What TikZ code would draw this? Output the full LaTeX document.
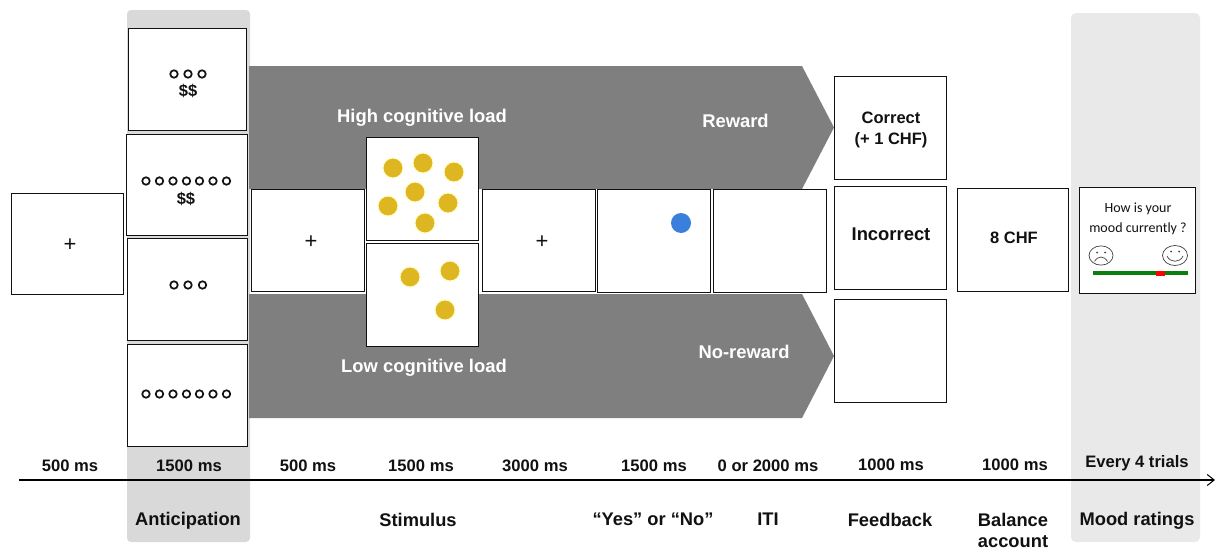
\documentclass[tikz,border=0pt]{standalone}
\usepackage{fontspec}
\setmainfont{Liberation Sans}
\newfontfamily\moodfont{Carlito}
\usetikzlibrary{arrows.meta}
\definecolor{bandgray}{HTML}{7F7F7F}
\definecolor{antgray}{HTML}{D9D9D9}
\definecolor{moodgray}{HTML}{E9E9E9}
\definecolor{dotyellow}{HTML}{DDB622}
\definecolor{dotblue}{HTML}{3A7FDB}
\definecolor{inkk}{HTML}{111111}
\definecolor{scalegreen}{HTML}{0B7F0B}
\newcommand{\screen}[6][]{\node[screenbox,#1,minimum width=#4-#2,minimum height=#5-#3,anchor=north west] (#6) at (#2-0.5,#3-0.5) {};}
\tikzset{
  x=1pt,y=-1pt,
  screenbox/.style={draw=inkk,line width=1.25pt,fill=white,inner sep=0pt,outer sep=0pt},
  lab/.style={font=\bfseries\fontsize{18.3}{21}\selectfont,text=inkk,align=center,inner sep=0pt},
  timelab/.style={font=\bfseries\fontsize{16.6}{19}\selectfont,text=inkk,inner sep=0pt},
  whitelab/.style={font=\bfseries\fontsize{18.4}{21}\selectfont,text=white,inner sep=0pt},
  boxlab/.style={font=\bfseries\fontsize{16.5}{19}\selectfont,text=inkk,align=center,inner sep=0pt},
  cross/.style={font=\fontsize{22}{22}\selectfont,text=inkk,inner sep=0pt},
  ring/.style={circle,draw=inkk,line width=1.7pt,minimum size=7.5pt,inner sep=0pt},
  ydot/.style={circle,fill=dotyellow,minimum size=20pt,inner sep=0pt,draw=yellow!25,line width=1pt},
  band/.style={fill=bandgray,draw=none},
  face/.style={draw=black!75,line width=.7pt},
}
\begin{document}
\begin{tikzpicture}
\useasboundingbox (0,0) rectangle (1215,549);
\fill[white] (0,0) rectangle (1215,549);
% backgrounds
\fill[antgray,rounded corners=4pt] (127,10) rectangle (250,542);
\fill[moodgray,rounded corners=5pt] (1071,13) rectangle (1200,542);
% grey arrows
\fill[band] (249,66) -- (802,66) -- (834,127.5) -- (802,189) -- (249,189) -- cycle;
\fill[band] (249,294) -- (802,294) -- (834,356) -- (802,418) -- (249,418) -- cycle;
\node[whitelab] (high) at (422,118) {High cognitive load};
\node[whitelab] (low) at (424,368) {Low cognitive load};
\node[whitelab] (rew) at (735.5,121) {Reward};
\node[whitelab] (norew) at (744,351.5) {No-reward};
% screens
\screen{12}{194}{124}{295}{s0}
\screen{129}{29}{247}{131}{a1}
\screen{127}{135}{248}{236}{a2}
\screen{128}{239}{248}{341}{a3}
\screen{128}{345}{248}{447}{a4}
\screen{252}{190}{365}{292}{s1}
\screen{367}{138}{479}{241}{h1}
\screen{367}{244}{479}{347}{l1}
\screen{483}{190}{596}{292}{s2}
\screen{598}{190}{711}{293}{s3}
\screen{714}{190}{827}{293}{s4}
\screen{835}{77}{947}{180}{f1}
\screen{835}{187}{947}{290}{f2}
\screen{835}{300}{947}{403}{f3}
\screen{958}{189}{1069}{292}{b1}
\screen{1080}{188}{1196}{294}{m1}
% crosses
\node[cross] (c0) at (70,245) {+};
\node[cross] (c1) at (311,242) {+};
\node[cross] (c2) at (542,242) {+};
% rings
\foreach \x [count=\i] in {174,188,202}{\node[ring] (ra\i) at (\x,74) {};}
\foreach \x [count=\i] in {146,159.5,173,186.5,199.5,213,226.5}{\node[ring] (rb\i) at (\x,181) {};}
\foreach \x [count=\i] in {174,188,202.5}{\node[ring] (rc\i) at (\x,285) {};}
\foreach \x [count=\i] in {146,159.5,173,186.5,199.5,213,226.5}{\node[ring] (rd\i) at (\x,394) {};}
\node[boxlab] (d1) at (188,91) {\$\$};
\node[boxlab] (d2) at (186,198.5) {\$\$};
% yellow dots
\foreach \x/\y [count=\i] in {393/168,423/163,454/172,415/192,388/206,448/203,425/223}{\node[ydot] (yh\i) at (\x,\y) {};}
\foreach \x/\y [count=\i] in {410/277,450/271,445/310}{\node[ydot] (yl\i) at (\x,\y) {};}
\node[circle,fill=dotblue,minimum size=20pt,inner sep=0pt] (bd) at (681,223) {};
% feedback texts
\node[boxlab,font=\bfseries\fontsize{16.5}{20.5}\selectfont] (tc) at (891,130) {Correct\\(+ 1 CHF)};
\node[boxlab,font=\bfseries\fontsize{18.4}{20}\selectfont] (ti) at (891,234) {Incorrect};
\node[boxlab] (tb) at (1014,238) {8 CHF};
% mood
\node[font=\moodfont\fontsize{14}{20}\selectfont,align=center,text=inkk,inner sep=0pt] (mq) at (1138,218.5) {How is your\\mood currently ?};
\node[circle,face,inner sep=0pt,minimum width=24pt,minimum height=24pt,yscale=.8] (sad) at (1101,255.5) {};
\fill[black!75] (1097,252.5) circle (1) (1105,252.5) circle (1);
\draw[face] (1094.5,261.5) .. controls (1098,255.5) and (1104,255.5) .. (1107.5,261.5);
\node[circle,face,minimum width=25pt,minimum height=25pt,inner sep=0pt,yscale=.8] (hap) at (1175,255.5) {};
\fill[black!75] (1171,251.5) circle (1) (1179,251.5) circle (1);
\draw[face] (1167,256) .. controls (1170,263) and (1180,263) .. (1183,256);
\coordinate (sl) at (1093,273);
\coordinate (sr) at (1188,273);
\draw[scalegreen,line width=3.3pt] (sl) -- (sr);
\fill[red] (1156,270.5) rectangle (1165,275.5);
% timeline
\coordinate (t0) at (19,480);
\coordinate (t1) at (1215,480);
\draw[black,line width=1.2pt,-{Straight Barb[length=7pt,width=11pt,line width=1pt]}] (t0) -- (t1);
\node[timelab] at (70,466) {500 ms};
\node[timelab] at (189,466) {1500 ms};
\node[timelab] at (308,466) {500 ms};
\node[timelab] at (421,466) {1500 ms};
\node[timelab] at (535,466) {3000 ms};
\node[timelab] at (654,466) {1500 ms};
\node[timelab] at (768,466) {0 or 2000 ms};
\node[timelab] at (891,465) {1000 ms};
\node[timelab] at (1015,465) {1000 ms};
\node[timelab] at (1137,463) {Every 4 trials};
\node[lab] at (188,521) {Anticipation};
\node[lab] at (418,520) {Stimulus};
\node[lab] at (653,519) {“Yes” or “No”};
\node[lab] at (768,519) {ITI};
\node[lab] at (890,520) {Feedback};
\node[lab,font=\bfseries\fontsize{18.3}{21}\selectfont] at (1013,530.5) {Balance\\account};
\node[lab] at (1137,521) {Mood ratings};
\end{tikzpicture}
\end{document}
